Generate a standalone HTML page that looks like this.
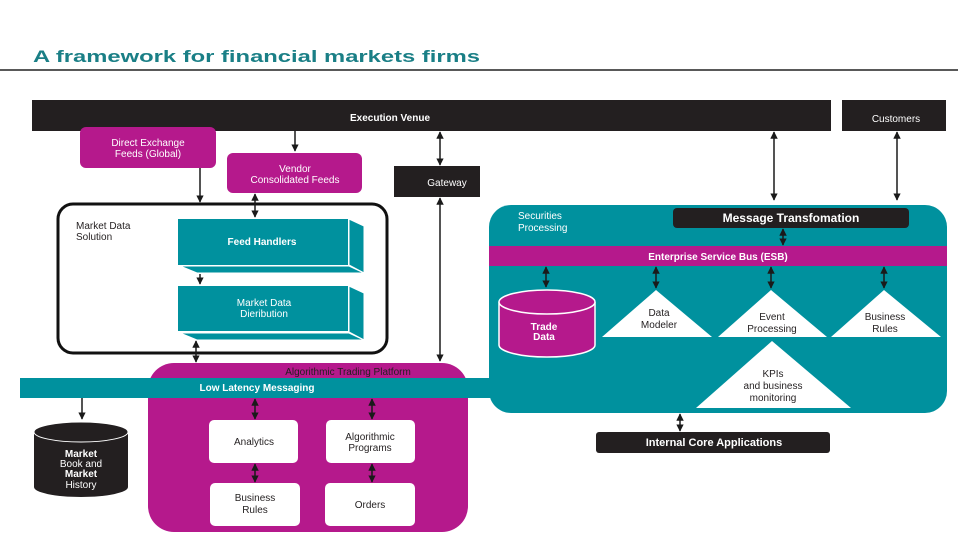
<!DOCTYPE html>
<html><head><meta charset="utf-8"><style>
html,body{margin:0;padding:0;background:#fff;}
svg{display:block;}
text{font-family:"Liberation Sans",sans-serif;}
</style></head><body>
<svg width="958" height="540" viewBox="0 0 958 540" xmlns="http://www.w3.org/2000/svg">
<defs>
<marker id="a" viewBox="0 0 10 10" refX="9" refY="5" markerWidth="5" markerHeight="5" orient="auto-start-reverse"><path d="M0,0L10,5L0,10z" fill="#1a1a1a"/></marker>
</defs>
<rect width="958" height="540" fill="#fff"/>
<text x="33" y="62" font-size="17" fill="#1a7f86" textLength="447" lengthAdjust="spacingAndGlyphs" font-weight="bold">A framework for financial markets firms</text>
<line x1="0" y1="70" x2="958" y2="70" stroke="#222" stroke-width="1.5"/>

<!-- top bars -->
<rect x="32" y="100" width="799" height="31" fill="#231f20"/>
<text x="390" y="121" font-size="10" fill="#fff" text-anchor="middle" font-weight="bold">Execution Venue</text>
<rect x="842" y="100" width="104" height="31" fill="#231f20"/>
<text x="896" y="122" font-size="10" fill="#fff" text-anchor="middle">Customers</text>

<!-- securities processing -->
<rect x="489" y="205" width="458" height="208" rx="22" fill="#00919e"/>
<text x="518" y="219" font-size="10" fill="#fff">Securities</text>
<text x="518" y="231" font-size="10" fill="#fff">Processing</text>
<rect x="673" y="208" width="236" height="20" rx="4" fill="#231f20"/>
<text x="791" y="222" font-size="12" fill="#fff" text-anchor="middle" font-weight="bold">Message Transfomation</text>
<rect x="489" y="246" width="458" height="20" fill="#b5198c"/>
<text x="718" y="260" font-size="10" fill="#fff" text-anchor="middle" font-weight="bold">Enterprise Service Bus (ESB)</text>
<!-- trade data cyl -->
<path d="M499,302 L499,345 A48,12 0 0 0 595,345 L595,302" fill="#b5198c" stroke="#fff" stroke-width="1.5"/>
<ellipse cx="547" cy="302" rx="48" ry="12" fill="#b5198c" stroke="#fff" stroke-width="1.5"/>
<text x="544" y="330" font-size="10" fill="#fff" text-anchor="middle" font-weight="bold">Trade</text>
<text x="544" y="340" font-size="10" fill="#fff" text-anchor="middle" font-weight="bold">Data</text>
<polygon points="656,290 712,337 602,337" fill="#fff"/>
<text x="659" y="316" font-size="10" fill="#231f20" text-anchor="middle">Data</text>
<text x="659" y="328" font-size="10" fill="#231f20" text-anchor="middle">Modeler</text>
<polygon points="771,290 827,337 718,337" fill="#fff"/>
<text x="772" y="320" font-size="10" fill="#231f20" text-anchor="middle">Event</text>
<text x="772" y="332" font-size="10" fill="#231f20" text-anchor="middle">Processing</text>
<polygon points="884,290 941,337 831,337" fill="#fff"/>
<text x="885" y="320" font-size="10" fill="#231f20" text-anchor="middle">Business</text>
<text x="885" y="332" font-size="10" fill="#231f20" text-anchor="middle">Rules</text>
<polygon points="772,341 851,408 696,408" fill="#fff"/>
<text x="773" y="377" font-size="10" fill="#231f20" text-anchor="middle">KPIs</text>
<text x="773" y="389" font-size="10" fill="#231f20" text-anchor="middle">and business</text>
<text x="773" y="401" font-size="10" fill="#231f20" text-anchor="middle">monitoring</text>

<rect x="596" y="432" width="234" height="21" rx="3" fill="#231f20"/>
<text x="714" y="446" font-size="11" fill="#fff" text-anchor="middle" font-weight="bold">Internal Core Applications</text>

<!-- left feeds -->
<rect x="80" y="127" width="136" height="41" rx="6" fill="#b5198c"/>
<text x="148" y="146" font-size="10" fill="#fff" text-anchor="middle">Direct Exchange</text>
<text x="148" y="157" font-size="10" fill="#fff" text-anchor="middle">Feeds (Global)</text>
<rect x="227" y="153" width="135" height="40" rx="6" fill="#b5198c"/>
<text x="295" y="172" font-size="10" fill="#fff" text-anchor="middle">Vendor</text>
<text x="295" y="183" font-size="10" fill="#fff" text-anchor="middle">Consolidated Feeds</text>
<rect x="394" y="166" width="86" height="31" fill="#231f20"/>
<text x="447" y="186" font-size="10" fill="#fff" text-anchor="middle">Gateway</text>

<!-- market data solution -->
<rect x="58" y="204" width="329" height="149" rx="15" fill="#fff" stroke="#111" stroke-width="3"/>
<text x="76" y="229" font-size="10" fill="#231f20">Market Data</text>
<text x="76" y="240" font-size="10" fill="#231f20">Solution</text>
<rect x="178" y="219" width="170" height="46" fill="#00919e"/>
<polygon points="349,219 364,226 364,273 349,265" fill="#00919e" stroke="#fff" stroke-width="1"/>
<polygon points="180,266 349,266 364,273 197,273" fill="#00919e" stroke="#fff" stroke-width="1"/>
<text x="262" y="245" font-size="10" fill="#fff" text-anchor="middle" font-weight="bold">Feed Handlers</text>
<rect x="178" y="286" width="170" height="45" fill="#00919e"/>
<polygon points="349,286 364,293 364,340 349,332" fill="#00919e" stroke="#fff" stroke-width="1"/>
<polygon points="180,333 349,333 364,340 197,340" fill="#00919e" stroke="#fff" stroke-width="1"/>
<text x="264" y="306" font-size="10" fill="#fff" text-anchor="middle">Market Data</text>
<text x="264" y="317" font-size="10" fill="#fff" text-anchor="middle">Dieribution</text>

<!-- ATP -->
<rect x="148" y="363" width="320" height="169" rx="26" fill="#b5198c"/>
<text x="348" y="375" font-size="10" fill="#231f20" text-anchor="middle">Algorithmic Trading Platform</text>
<rect x="20" y="378" width="472" height="20" fill="#00919e"/>
<text x="257" y="391" font-size="10" fill="#fff" text-anchor="middle" font-weight="bold">Low Latency Messaging</text>
<rect x="209" y="420" width="89" height="43" rx="5" fill="#fff"/>
<text x="254" y="445" font-size="10" fill="#231f20" text-anchor="middle">Analytics</text>
<rect x="326" y="420" width="89" height="43" rx="5" fill="#fff"/>
<text x="370" y="440" font-size="10" fill="#231f20" text-anchor="middle">Algorithmic</text>
<text x="370" y="451" font-size="10" fill="#231f20" text-anchor="middle">Programs</text>
<rect x="210" y="483" width="90" height="43" rx="5" fill="#fff"/>
<text x="255" y="501" font-size="10" fill="#231f20" text-anchor="middle">Business</text>
<text x="255" y="513" font-size="10" fill="#231f20" text-anchor="middle">Rules</text>
<rect x="325" y="483" width="90" height="43" rx="5" fill="#fff"/>
<text x="370" y="508" font-size="10" fill="#231f20" text-anchor="middle">Orders</text>

<!-- market book cyl -->
<path d="M34,432 L34,487 A47,10 0 0 0 128,487 L128,432" fill="#231f20"/>
<ellipse cx="81" cy="432" rx="47" ry="10" fill="#231f20" stroke="#fff" stroke-width="1"/>
<text x="81" y="457" font-size="10" fill="#fff" text-anchor="middle" font-weight="bold">Market</text>
<text x="81" y="467" font-size="10" fill="#fff" text-anchor="middle">Book and</text>
<text x="81" y="477" font-size="10" fill="#fff" text-anchor="middle" font-weight="bold">Market</text>
<text x="81" y="488" font-size="10" fill="#fff" text-anchor="middle">History</text>

<!-- arrows -->
<g stroke="#1a1a1a" stroke-width="1.5" fill="none">
<line x1="295" y1="131" x2="295" y2="151" marker-end="url(#a)"/>
<line x1="200" y1="168" x2="200" y2="202" marker-end="url(#a)"/>
<line x1="255" y1="194" x2="255" y2="217" marker-start="url(#a)" marker-end="url(#a)"/>
<line x1="200" y1="274" x2="200" y2="284" marker-end="url(#a)"/>
<line x1="196" y1="341" x2="196" y2="362" marker-start="url(#a)" marker-end="url(#a)"/>
<line x1="440" y1="132" x2="440" y2="165" marker-start="url(#a)" marker-end="url(#a)"/>
<line x1="440" y1="198" x2="440" y2="361" marker-start="url(#a)" marker-end="url(#a)"/>
<line x1="774" y1="132" x2="774" y2="200" marker-start="url(#a)" marker-end="url(#a)"/>
<line x1="897" y1="132" x2="897" y2="200" marker-start="url(#a)" marker-end="url(#a)"/>
<line x1="783" y1="229" x2="783" y2="245" marker-start="url(#a)" marker-end="url(#a)"/>
<line x1="546" y1="267" x2="546" y2="287" marker-start="url(#a)" marker-end="url(#a)"/>
<line x1="656" y1="267" x2="656" y2="288" marker-start="url(#a)" marker-end="url(#a)"/>
<line x1="771" y1="267" x2="771" y2="288" marker-start="url(#a)" marker-end="url(#a)"/>
<line x1="884" y1="267" x2="884" y2="288" marker-start="url(#a)" marker-end="url(#a)"/>
<line x1="680" y1="414" x2="680" y2="431" marker-start="url(#a)" marker-end="url(#a)"/>
<line x1="82" y1="398" x2="82" y2="419" marker-end="url(#a)"/>
<line x1="255" y1="399" x2="255" y2="419" marker-start="url(#a)" marker-end="url(#a)"/>
<line x1="372" y1="399" x2="372" y2="419" marker-start="url(#a)" marker-end="url(#a)"/>
<line x1="255" y1="464" x2="255" y2="482" marker-start="url(#a)" marker-end="url(#a)"/>
<line x1="372" y1="464" x2="372" y2="482" marker-start="url(#a)" marker-end="url(#a)"/>
</g>
</svg>
</body></html>
